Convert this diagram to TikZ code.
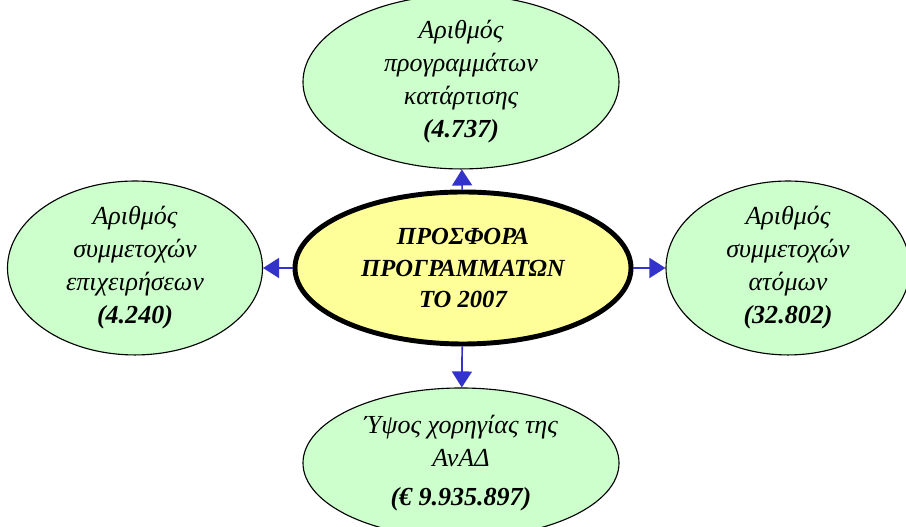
\documentclass[tikz,border=0pt]{standalone}
\usepackage{fontspec}
\setmainfont{Liberation Serif}
\usetikzlibrary{shapes.geometric,arrows.meta}
\definecolor{bubblegreen}{HTML}{CCFFCC}
\definecolor{hubyellow}{HTML}{FFFF99}
\definecolor{linkblue}{HTML}{3333CC}

\begin{document}
\begin{tikzpicture}[thick,
  bubble/.style={ellipse,draw=black,line width=0.8pt,fill=bubblegreen,inner sep=0pt,
    align=center,font=\fontsize{18.5}{23.5}\selectfont\itshape},
  hub/.style={ellipse,draw=black,line width=3.5pt,fill=hubyellow,inner sep=0pt,
    align=center,font=\fontsize{17.5}{22.5}\selectfont\bfseries\itshape},
  link/.style={draw=linkblue,line width=1.2pt,-{Triangle[length=4mm,width=5mm]}}]
\useasboundingbox (0,0) rectangle (22.65,13.175);

%%Centre
\node[hub,minimum width=8.4cm,minimum height=3.8cm] (offer) at (11.575,6.475)
  {ΠΡΟΣΦΟΡΑ\\ΠΡΟΓΡΑΜΜΑΤΩΝ\\ΤΟ 2007};

%%Bubbles
\node[bubble,minimum width=7.9cm,minimum height=3.75cm] (programs) at (11.525,11.125)
  {Αριθμός\\προγραμμάτων\\κατάρτισης\\{\bfseries (4.737)}};
\node[bubble,minimum width=6.375cm,minimum height=4cm] (firms) at (3.375,6.475)
  {Αριθμός\\συμμετοχών\\επιχειρήσεων\\{\bfseries (4.240)}};
\node[bubble,minimum width=6.1cm,minimum height=4cm] (persons) at (19.7,6.475)
  {Αριθμός\\συμμετοχών\\ατόμων\\{\bfseries (32.802)}};
\node[bubble,minimum width=7.9cm,minimum height=3.75cm] (funding) at (11.525,1.6)
  {Ύψος χορηγίας της\\ΑνΑΔ\\[4pt]{\bfseries (€ 9.935.897)}};

%%Links
\draw[link] (offer) -- (programs);
\draw[link] (offer) -- (firms);
\draw[link] (offer) -- (persons);
\draw[link] (offer) -- (funding);
\end{tikzpicture}
\end{document}
